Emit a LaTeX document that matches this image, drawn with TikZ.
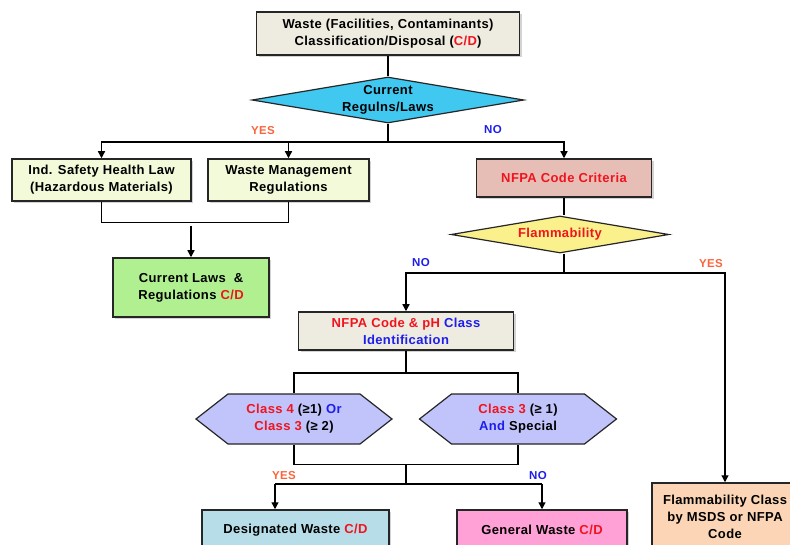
\documentclass[tikz,border=0pt]{standalone}
\usepackage{fontspec}
\setmainfont{Liberation Sans}[LetterSpace=3]
\usetikzlibrary{positioning,shapes.geometric,shapes.symbols,shadows,arrows.meta}

\definecolor{beige}{RGB}{238,236,225}
\definecolor{skycyan}{RGB}{64,200,240}
\definecolor{lawgreen}{RGB}{242,250,218}
\definecolor{cdgreen}{RGB}{176,240,144}
\definecolor{nfparose}{RGB}{230,190,182}
\definecolor{flamyellow}{RGB}{250,240,140}
\definecolor{lavender}{RGB}{192,196,250}
\definecolor{desigblue}{RGB}{183,222,232}
\definecolor{genpink}{RGB}{255,160,214}
\definecolor{peach}{RGB}{251,213,181}
\definecolor{txtred}{RGB}{240,20,30}
\definecolor{txtblue}{RGB}{30,30,235}
\definecolor{yesorange}{RGB}{250,100,60}

\newcommand{\redtxt}[1]{\textcolor{txtred}{#1}}
\newcommand{\bluetxt}[1]{\textcolor{txtblue}{#1}}

\begin{document}
\begin{tikzpicture}[
		x=1pt, y=-1pt,
		>={Triangle[length=7pt,width=7pt]},
		every node/.style={font=\bfseries\fontsize{13}{17}\selectfont, align=center},
		box/.style={draw=black!85, line width=1.5pt, rectangle, inner sep=2pt,
			drop shadow={shadow xshift=2pt, shadow yshift=-2pt, opacity=0.35}},
		decision/.style={draw=black!85, line width=1.2pt, diamond, inner sep=0pt},
		hexa/.style={draw=black!85, line width=1.2pt, signal, signal to=west and east,
			signal pointer angle=76, inner sep=0pt},
		yeslbl/.style={font=\bfseries\fontsize{11.5}{13}\selectfont, text=yesorange},
		nolbl/.style={font=\bfseries\fontsize{11.5}{13}\selectfont, text=txtblue},
		link/.style={line width=1.3pt},
	]
	\useasboundingbox (0,0) rectangle (790,545);
	\clip (0,0) rectangle (790,545);

	% Top box and first decision
	\node[box, fill=beige, minimum width=263pt, minimum height=43pt] (A1) at (388,33.5)
		{Waste (Facilities, Contaminants)\\Classification/Disposal (\redtxt{C/D})};
	\node[decision, fill=skycyan, minimum width=272pt, minimum height=46pt, aspect=6] (B1) at (388,100)
		{Current\\Regulns/Laws};

	% Law branch
	\node[box, fill=lawgreen, minimum width=179pt, minimum height=42pt] (C1) at (101.5,180)
		{Ind. Safety Health Law\\(Hazardous Materials)};
	\node[box, fill=lawgreen, minimum width=161pt, minimum height=42pt] (C2) at (288.5,180)
		{Waste Management\\Regulations};
	\node[box, fill=cdgreen, minimum width=156pt, minimum height=59pt] (D1) at (191,287.5)
		{Current Laws~ \&\\Regulations \redtxt{C/D}};

	% NFPA branch
	\node[box, fill=nfparose, minimum width=175pt, minimum height=38pt] (E1) at (564,178)
		{\redtxt{NFPA Code Criteria}};
	\node[decision, fill=flamyellow, minimum width=218pt, minimum height=37pt, aspect=6] (E2) at (560,234.5)
		{\redtxt{Flammability}};
	\node[box, fill=beige, minimum width=215pt, minimum height=38pt] (F1) at (406,331)
		{\redtxt{NFPA Code \& pH} \bluetxt{Class}\\\bluetxt{Identification}};

	% Class checks
	\node[hexa, fill=lavender, minimum width=196pt, minimum height=50pt] (G1) at (294,419)
		{\redtxt{Class 4} (≥1) \bluetxt{Or}\\\redtxt{Class 3} (≥ 2)};
	\node[hexa, fill=lavender, minimum width=197pt, minimum height=50pt] (G2) at (518,419)
		{\redtxt{Class 3} (≥ 1)\\\bluetxt{And} Special};

	% Results
	\node[box, fill=desigblue, minimum width=187pt, minimum height=40pt] (H1) at (295.5,530)
		{Designated Waste \redtxt{C/D}};
	\node[box, fill=genpink, minimum width=170pt, minimum height=40pt] (H2) at (542,530)
		{General Waste \redtxt{C/D}};
	\node[box, fill=peach, minimum width=146pt, minimum height=68pt] (H3) at (725,517)
		{Flammability Class\\by MSDS or NFPA\\Code};

	% Junction points
	\coordinate (J1) at (388,142);
	\coordinate (J2) at (191,226);
	\coordinate (J3) at (564,273);
	\coordinate (J4) at (406,373);
	\coordinate (J5) at (406,464);
	\coordinate (J6) at (406,484);
	\coordinate (J7) at (275,484);
	\coordinate (J8) at (542,484);

	% Connections from the top
	\draw[link] (A1) -- (B1);
	\draw[link] (B1.south) -- (J1);
	\draw[link,->] (J1) -| (C1.north);
	\draw[link,->] (J1) -| (C2.north);
	\draw[link,->] (J1) -| (E1.north);

	% Law branch joins
	\draw[link] (C1.south) -- ++(0,21) -| (C2.south);
	\draw[link,->] (J2) -- (D1.north);

	% NFPA branch
	\draw[link] (E1.south) -- (E1.south |- E2.north);
	\draw[link] (J3 |- E2.south) -- (J3);
	\draw[link,->] (J3) -| (F1.north);
	\draw[link,->] (J3) -| (H3.north);
	\draw[link] (F1.south) -- (J4);
	\draw[link] (J4) -| (G1.north);
	\draw[link] (J4) -| (G2.north);

	% Class checks to results
	\draw[link] (G1.south) -- ++(0,20) -| (G2.south);
	\draw[link] (J5) -- (J6);
	\draw[link] (J7) -- (J8);
	\draw[link,->] (J7) -- (J7 |- H1.north);
	\draw[link,->] (J8) -- (J8 |- H2.north);

	% Branch labels
	\node[yeslbl] (L1) at (263,131) {YES};
	\node[nolbl] (L2) at (493,130) {NO};
	\node[nolbl] (L3) at (421,263) {NO};
	\node[yeslbl] (L4) at (711,264) {YES};
	\node[yeslbl] (L5) at (284,476) {YES};
	\node[nolbl] (L6) at (538,476) {NO};
\end{tikzpicture}
\end{document}
